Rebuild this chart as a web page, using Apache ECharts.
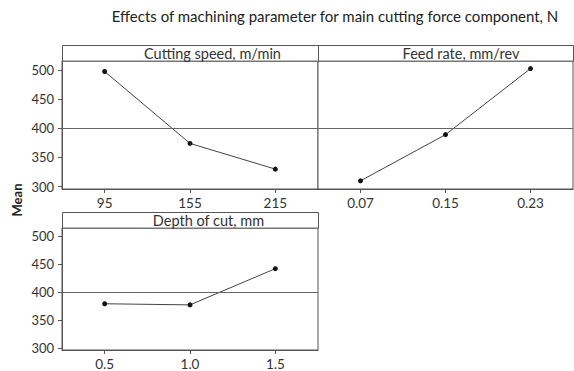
<!DOCTYPE html>
<html><head><meta charset="utf-8">
<script src="https://cdn.jsdelivr.net/npm/echarts@6/dist/echarts.min.js"></script>
<style>html,body{margin:0;padding:0;background:#fff}#c{width:574px;height:371px}</style>
</head><body><div id="c"></div>
<script>
const speedCats = ['95', '155', '215'];
const speedMeans = [497, 374, 330];
const feedCats = ['0.07', '0.15', '0.23'];
const feedMeans = [310, 389, 502];
const depthCats = ['0.5', '1.0', '1.5'];
const depthMeans = [379, 377, 442];
const yTicks = [300, 350, 400, 450, 500];
const grandMean = 400;
const panelTitles = ['Cutting speed, m/min', 'Feed rate, mm/rev', 'Depth of cut, mm'];

const FONT = 'Lato';
const chart = echarts.init(document.getElementById('c'), null, {renderer: 'svg'});
const grids = [
  {left: 62, top: 61, width: 256, height: 128},
  {left: 318, top: 61, width: 255, height: 128},
  {left: 62, top: 228, width: 256, height: 129}
];
const titleShift = [22, 15, 18];
const cats = [speedCats, feedCats, depthCats];
const vals = [speedMeans, feedMeans, depthMeans];
const headerH = 16;

const option = {
  animation: false,
  textStyle: {fontFamily: FONT},
  grid: grids.map(g => Object.assign({show: true, borderColor: '#555', borderWidth: 1, backgroundColor: '#fff'}, g)),
  xAxis: cats.map((c, i) => ({
    type: 'category', gridIndex: i, data: c, boundaryGap: true,
    axisLine: {show: true, lineStyle: {color: '#555'}},
    axisTick: {show: true, alignWithLabel: true, length: 4, lineStyle: {color: '#555'}},
    axisLabel: {color: '#333', fontSize: 13.5, fontFamily: FONT, margin: 7}
  })),
  yAxis: cats.map((c, i) => ({
    type: 'value', gridIndex: i, min: 296, max: 515,
    splitLine: {show: false},
    axisLine: {show: i !== 1, lineStyle: {color: '#555'}},
    axisTick: {show: i !== 1, length: 4, customValues: yTicks, lineStyle: {color: '#555'}},
    axisLabel: {show: i !== 1, customValues: yTicks, color: '#333', fontSize: 13, fontFamily: FONT, margin: 8}
  })),
  series: vals.map((v, i) => ({
    type: 'line', xAxisIndex: i, yAxisIndex: i, data: v,
    symbol: 'circle', symbolSize: 5,
    itemStyle: {color: '#111'},
    lineStyle: {color: '#444', width: 1},
    markLine: {
      silent: true, symbol: 'none', label: {show: false},
      lineStyle: {color: '#666', width: 1, type: 'solid'},
      data: [{yAxis: grandMean}]
    }
  })),
  graphic: [
    ...grids.map((g, i) => ({
      type: 'group', left: g.left, top: g.top - headerH,
      children: [
        {type: 'rect', shape: {x: 0, y: 0, width: g.width, height: headerH},
         style: {fill: '#fff', stroke: '#555', lineWidth: 1}},
        {type: 'rect', shape: {x: 0, y: headerH - 1, width: g.width, height: 1.5},
         style: {fill: '#777'}},
        {type: 'text', x: g.width / 2 + titleShift[i], y: headerH / 2,
         style: {text: panelTitles[i], fill: '#333', font: '14.5px ' + FONT, align: 'center', verticalAlign: 'middle'}}
      ]
    })),
    {type: 'text', x: 335, y: 16,
     style: {text: 'Effects of machining parameter for main cutting force component, N', fill: '#222',
             font: '15px ' + FONT, align: 'center', verticalAlign: 'middle'}},
    {type: 'text', x: 16.5, y: 200, rotation: Math.PI / 2,
     style: {text: 'Mean', fill: '#222', font: 'bold 13px ' + FONT, align: 'center', verticalAlign: 'middle'}}
  ]
};
chart.setOption(option);
</script></body></html>
